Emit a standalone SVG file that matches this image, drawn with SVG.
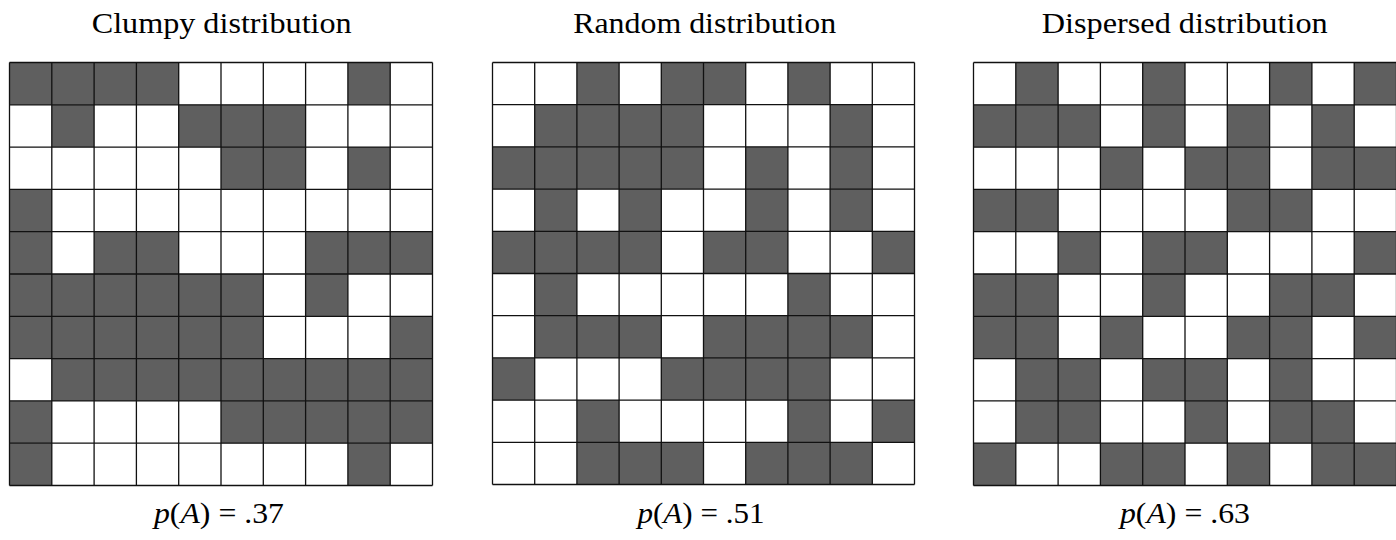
<svg xmlns="http://www.w3.org/2000/svg" width="1396" height="540" viewBox="0 0 1396 540">
<defs>
<path id="lines" fill="none" stroke="#111" stroke-width="1.3" vector-effect="non-scaling-stroke" d="M0 0H10M0 1H10M0 2H10M0 3H10M0 4H10M0 5H10M0 6H10M0 7H10M0 8H10M0 9H10M0 10H10M0 0V10M1 0V10M2 0V10M3 0V10M4 0V10M5 0V10M6 0V10M7 0V10M8 0V10M9 0V10M10 0V10"/>
</defs>
<rect width="1396" height="540" fill="#fff"/>
<g id="clumpy">
<text x="221.7" y="33" font-size="29" font-family="Liberation Serif" textLength="260" lengthAdjust="spacingAndGlyphs" text-anchor="middle">Clumpy distribution</text>
<g transform="translate(9.5,62.5) scale(42.3)">
<rect width="10" height="10" fill="#fff"/>
<g fill="#5f5f5f">
<rect x="0" y="0" width="4" height="1"/><rect x="8" y="0" width="1" height="1"/>
<rect x="1" y="1" width="1" height="1"/><rect x="4" y="1" width="3" height="1"/>
<rect x="5" y="2" width="2" height="1"/><rect x="8" y="2" width="1" height="1"/>
<rect x="0" y="3" width="1" height="1"/>
<rect x="0" y="4" width="1" height="1"/><rect x="2" y="4" width="2" height="1"/><rect x="7" y="4" width="3" height="1"/>
<rect x="0" y="5" width="6" height="1"/><rect x="7" y="5" width="1" height="1"/>
<rect x="0" y="6" width="6" height="1"/><rect x="9" y="6" width="1" height="1"/>
<rect x="1" y="7" width="9" height="1"/>
<rect x="0" y="8" width="1" height="1"/><rect x="5" y="8" width="5" height="1"/>
<rect x="0" y="9" width="1" height="1"/><rect x="8" y="9" width="1" height="1"/>
</g>
<use href="#lines"/>
</g>
<text x="219" y="523" font-size="30" font-family="Liberation Serif" textLength="130" lengthAdjust="spacingAndGlyphs" text-anchor="middle"><tspan font-style="italic">p</tspan>(<tspan font-style="italic">A</tspan>) = .37</text>
</g>
<g id="random">
<text x="704.7" y="33" font-size="29" font-family="Liberation Serif" textLength="263" lengthAdjust="spacingAndGlyphs" text-anchor="middle">Random distribution</text>
<g transform="translate(492.5,62.5) scale(42.2)">
<rect width="10" height="10" fill="#fff"/>
<g fill="#5f5f5f">
<rect x="2" y="0" width="1" height="1"/><rect x="4" y="0" width="2" height="1"/><rect x="7" y="0" width="1" height="1"/>
<rect x="1" y="1" width="4" height="1"/><rect x="8" y="1" width="1" height="1"/>
<rect x="0" y="2" width="5" height="1"/><rect x="6" y="2" width="1" height="1"/><rect x="8" y="2" width="1" height="1"/>
<rect x="1" y="3" width="1" height="1"/><rect x="3" y="3" width="1" height="1"/><rect x="6" y="3" width="1" height="1"/><rect x="8" y="3" width="1" height="1"/>
<rect x="0" y="4" width="4" height="1"/><rect x="5" y="4" width="2" height="1"/><rect x="9" y="4" width="1" height="1"/>
<rect x="1" y="5" width="1" height="1"/><rect x="7" y="5" width="1" height="1"/>
<rect x="1" y="6" width="3" height="1"/><rect x="5" y="6" width="4" height="1"/>
<rect x="0" y="7" width="1" height="1"/><rect x="4" y="7" width="4" height="1"/>
<rect x="2" y="8" width="1" height="1"/><rect x="7" y="8" width="1" height="1"/><rect x="9" y="8" width="1" height="1"/>
<rect x="2" y="9" width="3" height="1"/><rect x="6" y="9" width="3" height="1"/>
</g>
<use href="#lines"/>
</g>
<text x="701" y="523" font-size="30" font-family="Liberation Serif" textLength="127" lengthAdjust="spacingAndGlyphs" text-anchor="middle"><tspan font-style="italic">p</tspan>(<tspan font-style="italic">A</tspan>) = .51</text>
</g>
<g id="dispersed">
<text x="1184.7" y="33" font-size="29" font-family="Liberation Serif" textLength="286" lengthAdjust="spacingAndGlyphs" text-anchor="middle">Dispersed distribution</text>
<g transform="translate(973.5,62.5) scale(42.3)">
<rect width="10" height="10" fill="#fff"/>
<g fill="#5f5f5f">
<rect x="1" y="0" width="1" height="1"/><rect x="4" y="0" width="1" height="1"/><rect x="7" y="0" width="1" height="1"/><rect x="9" y="0" width="1" height="1"/>
<rect x="0" y="1" width="3" height="1"/><rect x="4" y="1" width="1" height="1"/><rect x="6" y="1" width="1" height="1"/><rect x="8" y="1" width="1" height="1"/>
<rect x="3" y="2" width="1" height="1"/><rect x="5" y="2" width="2" height="1"/><rect x="8" y="2" width="2" height="1"/>
<rect x="0" y="3" width="2" height="1"/><rect x="6" y="3" width="2" height="1"/>
<rect x="2" y="4" width="1" height="1"/><rect x="4" y="4" width="2" height="1"/><rect x="9" y="4" width="1" height="1"/>
<rect x="0" y="5" width="2" height="1"/><rect x="4" y="5" width="1" height="1"/><rect x="7" y="5" width="2" height="1"/>
<rect x="0" y="6" width="2" height="1"/><rect x="3" y="6" width="1" height="1"/><rect x="6" y="6" width="2" height="1"/><rect x="9" y="6" width="1" height="1"/>
<rect x="1" y="7" width="2" height="1"/><rect x="4" y="7" width="2" height="1"/><rect x="7" y="7" width="1" height="1"/>
<rect x="1" y="8" width="2" height="1"/><rect x="5" y="8" width="1" height="1"/><rect x="7" y="8" width="2" height="1"/>
<rect x="0" y="9" width="1" height="1"/><rect x="3" y="9" width="2" height="1"/><rect x="6" y="9" width="1" height="1"/><rect x="8" y="9" width="2" height="1"/>
</g>
<use href="#lines"/>
</g>
<text x="1185" y="523" font-size="30" font-family="Liberation Serif" textLength="130" lengthAdjust="spacingAndGlyphs" text-anchor="middle"><tspan font-style="italic">p</tspan>(<tspan font-style="italic">A</tspan>) = .63</text>
</g>
</svg>
